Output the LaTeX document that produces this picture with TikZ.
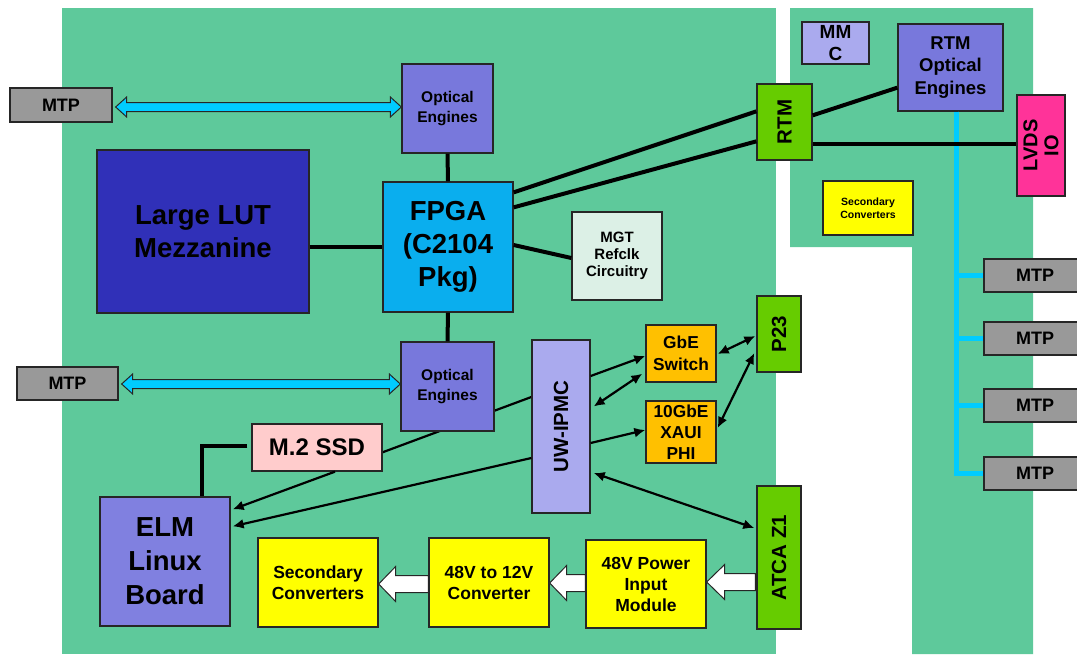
\documentclass[tikz,border=0pt]{standalone}
\usepackage{fontspec}
\setmainfont{Liberation Sans}
\usetikzlibrary{arrows.meta,calc}
\pgfdeclarelayer{bg}
\pgfsetlayers{bg,main}
\definecolor{board}{RGB}{94,201,155}
\definecolor{oecol}{RGB}{120,120,220}
\definecolor{lutcol}{RGB}{48,48,184}
\definecolor{fpgacol}{RGB}{10,174,238}
\definecolor{mgtcol}{RGB}{220,240,230}
\definecolor{grn}{RGB}{102,204,0}
\definecolor{lav}{RGB}{170,170,238}
\definecolor{pinkc}{RGB}{255,51,153}
\definecolor{yel}{RGB}{255,255,0}
\definecolor{org}{RGB}{255,192,0}
\definecolor{ssdcol}{RGB}{255,204,204}
\definecolor{gry}{RGB}{153,153,153}
\definecolor{cyn}{RGB}{0,204,255}
\definecolor{elmcol}{RGB}{128,128,224}
\newcommand\fsz[2]{\bfseries\fontsize{#1}{#2}\selectfont}
\begin{document}
\begin{tikzpicture}[x=1pt,y=-1pt,
 box/.style={draw=black!85,line width=1.3pt,inner sep=0pt,align=center,text=black},
 rtext/.style={rotate=90,align=center,text=black},
 thickline/.style={line width=4pt,black},
 thinarrow/.style={line width=2.2pt,black,-{Latex[length=11pt,width=10pt]}},
 thindbl/.style={line width=2.2pt,black,{Latex[length=11pt,width=10pt]}-{Latex[length=11pt,width=10pt]}},
 cyanline/.style={line width=5.5pt,cyn},
 cyanarrow/.style={fill=cyn,draw=black!85,line width=1pt,line join=miter},
 whitearrow/.style={fill=white,draw=black!85,line width=1pt,line join=miter},
]
\useasboundingbox (0,0) rectangle (1077,654);

% nodes
\node[box,fill=gry,minimum width=102pt,minimum height=34pt,font=\fsz{18}{21}] (mtpA) at (61,105) {MTP};
\node[box,fill=oecol,minimum width=91pt,minimum height=89pt,font=\fsz{15.5}{19.5}] (oeA) at (447.5,108.5) {Optical\\Engines};
\node[box,fill=lutcol,minimum width=212pt,minimum height=163pt,font=\fsz{27.5}{33}] (lut) at (203,231.5) {Large LUT\\Mezzanine};
\node[box,fill=fpgacol,minimum width=130pt,minimum height=130pt,font=\fsz{27.5}{33}] (fpga) at (448,247) {FPGA\\(C2104\\Pkg)};
\node[box,fill=mgtcol,minimum width=90pt,minimum height=88pt,font=\fsz{15}{17}] (mgt) at (617,256) {MGT\\Refclk\\Circuitry};
\node[box,fill=grn,minimum width=55pt,minimum height=76pt] (rtm) at (784.5,122) {};
\node[rtext,font=\fsz{20.5}{24}] (rtmT) at (rtm) {RTM};
\node[box,fill=lav,minimum width=67pt,minimum height=42pt,font=\fsz{19}{22}] (mmc) at (835.5,43) {MM\\C};
\node[box,fill=oecol,minimum width=105pt,minimum height=87pt,font=\fsz{18.5}{22.5}] (rtmoe) at (950.5,67.5) {RTM\\Optical\\Engines};
\node[box,fill=pinkc,minimum width=48pt,minimum height=101pt] (lvds) at (1041,145.5) {};
\node[rtext,font=\fsz{20}{21}] (lvdsT) at (lvds) {LVDS\\IO};
\node[box,fill=yel,minimum width=90pt,minimum height=54pt,font=\fsz{10.5}{13}] (secA) at (868,208) {Secondary\\Converters};
\node[box,fill=gry,minimum width=102pt,minimum height=33pt,font=\fsz{18}{21}] (mtpR1) at (1035,275.5) {MTP};
\node[box,fill=gry,minimum width=102pt,minimum height=33pt,font=\fsz{18}{21}] (mtpR2) at (1035,338.5) {MTP};
\node[box,fill=gry,minimum width=102pt,minimum height=33pt,font=\fsz{18}{21}] (mtpR3) at (1035,405.5) {MTP};
\node[box,fill=gry,minimum width=102pt,minimum height=33pt,font=\fsz{18}{21}] (mtpR4) at (1035,473.5) {MTP};
\node[box,fill=oecol,minimum width=93pt,minimum height=89pt,font=\fsz{15.5}{19.5}] (oeB) at (447.5,386.5) {Optical\\Engines};
\node[box,fill=gry,minimum width=101pt,minimum height=33pt,font=\fsz{18}{21}] (mtpB) at (67.5,383.5) {MTP};
\node[box,fill=lav,minimum width=58pt,minimum height=173pt] (ipmc) at (561,426.5) {};
\node[rtext,font=\fsz{20.5}{24}] (ipmcT) at (ipmc) {UW-IPMC};
\node[box,fill=org,minimum width=70pt,minimum height=57pt,font=\fsz{17.3}{21.5}] (gbe) at (681,353.5) {GbE\\Switch};
\node[box,fill=org,minimum width=70pt,minimum height=62pt,font=\fsz{17.3}{21}] (xaui) at (681,432) {10GbE\\XAUI\\PHI};
\node[box,fill=grn,minimum width=44pt,minimum height=76pt] (p23) at (779,334) {};
\node[rtext,font=\fsz{20.5}{24}] (p23T) at (p23) {P23};
\node[box,fill=grn,minimum width=44pt,minimum height=143pt] (atca) at (779,557.5) {};
\node[rtext,font=\fsz{20.5}{24}] (atcaT) at (atca) {ATCA Z1};
\node[box,fill=ssdcol,minimum width=130pt,minimum height=47pt,font=\fsz{24}{28}] (ssd) at (317,447.5) {M.2 SSD};
\node[box,fill=elmcol,minimum width=130pt,minimum height=129pt,font=\fsz{27.5}{34}] (elm) at (165,561.5) {ELM\\Linux\\Board};
\node[box,fill=yel,minimum width=120pt,minimum height=89pt,font=\fsz{17.5}{21}] (secB) at (318,582.5) {Secondary\\Converters};
\node[box,fill=yel,minimum width=120pt,minimum height=89pt,font=\fsz{17.5}{21}] (conv) at (489,582.5) {48V to 12V\\Converter};
\node[box,fill=yel,minimum width=120pt,minimum height=88pt,font=\fsz{17.5}{21}] (pim) at (646,584) {48V Power\\Input\\Module};

% background
\begin{pgfonlayer}{bg}
\fill[board] (62,8) rectangle (776,654);
\fill[board] (790,8) -- (1033,8) -- (1033,654) -- (912,654) -- (912,247) -- (790,247) -- cycle;
\draw[line width=2.2pt,black] ($(ssd.east)+(-2,5.5)$) -- ($(ipmc.west)+(0,-29.5)$);
\end{pgfonlayer}

% thick connectors
\draw[thickline] (fpga.north) -- (oeA.south);
\draw[thickline] (fpga.south) -- (oeB.north);
\draw[thickline] (fpga.west -| lut.east) -- (fpga.west);
\draw[thickline] ($(fpga.east)+(0,-2)$) -- ($(mgt.west)+(0,2)$);
\draw[thickline] ($(fpga.north east)+(0,11)$) -- ($(rtm.north west)+(0,28)$);
\draw[thickline] ($(fpga.north east)+(0,26)$) -- ($(rtm.north west)+(0,58)$);
\draw[thickline] ($(rtm.north east)+(0,32)$) -- ($(rtmoe.south west)+(0,-24)$);
\draw[thickline] ($(ssd.west)+(-4,-1.5)$) -| ($(elm.north)+(37,0)$);

% cyan tree
\coordinate (cy0) at ($(rtmoe.south)+(6,0)$);
\draw[cyanline] (cy0) |- (mtpR1.west);
\draw[cyanline] (cy0) |- (mtpR2.west);
\draw[cyanline] (cy0) |- (mtpR3.west);
\draw[cyanline] (cy0) |- (mtpR4.west);
\coordinate (rtmL) at ($(rtm.east)+(0,22)$);
\draw[thickline] (rtmL) -- (rtmL -| lvds.west);

% cyan double arrows
\draw[cyanarrow] let \p1=($(mtpA.east)+(3,2)$), \p2=(oeA.west) in
 (\x1,\y1) -- (\x1+11pt,\y1+10pt) -- (\x1+11pt,\y1+4.5pt) -- (\x2-11pt,\y1+4.5pt) -- (\x2-11pt,\y1+10pt) -- (\x2,\y1)
 -- (\x2-11pt,\y1-10pt) -- (\x2-11pt,\y1-4.5pt) -- (\x1+11pt,\y1-4.5pt) -- (\x1+11pt,\y1-10pt) -- cycle;
\draw[cyanarrow] let \p1=($(mtpB.east)+(3,0.5)$), \p2=(oeB.west) in
 (\x1,\y1) -- (\x1+11pt,\y1+10pt) -- (\x1+11pt,\y1+4.5pt) -- (\x2-11pt,\y1+4.5pt) -- (\x2-11pt,\y1+10pt) -- (\x2,\y1)
 -- (\x2-11pt,\y1-10pt) -- (\x2-11pt,\y1-4.5pt) -- (\x1+11pt,\y1-4.5pt) -- (\x1+11pt,\y1-10pt) -- cycle;

% white block arrows
\draw[whitearrow] let \p1=(atca.west), \p2=($(pim.east)+(0,-2)$) in
 (\x2,\y2) -- (\x2+18pt,\y2+17.5pt) -- (\x2+18pt,\y2+8.5pt) -- (\x1-1pt,\y2+8.5pt) -- (\x1-1pt,\y2-8.5pt) -- (\x2+18pt,\y2-8.5pt) -- (\x2+18pt,\y2-17.5pt) -- cycle;
\draw[whitearrow] let \p1=(pim.west), \p2=($(conv.east)+(0,0.5)$) in
 (\x2,\y2) -- (\x2+17pt,\y2+17.5pt) -- (\x2+17pt,\y2+8.5pt) -- (\x1,\y2+8.5pt) -- (\x1,\y2-8.5pt) -- (\x2+17pt,\y2-8.5pt) -- (\x2+17pt,\y2-17.5pt) -- cycle;
\draw[whitearrow] let \p1=(conv.west), \p2=($(secB.east)+(0,1.5)$) in
 (\x2,\y2) -- (\x2+17pt,\y2+17.5pt) -- (\x2+17pt,\y2+8.5pt) -- (\x1,\y2+8.5pt) -- (\x1,\y2-8.5pt) -- (\x2+17pt,\y2-8.5pt) -- (\x2+17pt,\y2-17.5pt) -- cycle;

% thin arrows
\draw[thinarrow] ($(ipmc.east)+(0,-50.5)$) -- ($(gbe.west)+(0,2.5)$);
\draw[thindbl] ($(ipmc.east)+(3,-20)$) -- ($(gbe.south west)+(-3,-9)$);
\draw[thinarrow] ($(ipmc.east)+(0,16.5)$) -- ($(xaui.west)+(0,-2)$);
\draw[thindbl] ($(gbe.east)+(1,0.5)$) -- ($(p23.west)+(-1,2)$);
\draw[thindbl] ($(xaui.east)+(1,-4)$) -- ($(p23.west)+(-2,19)$);
\draw[thindbl] ($(ipmc.east)+(3,46.5)$) -- ($(atca.west)+(-2,-29.5)$);
\draw[thinarrow] ($(ssd.south)+(18,0)$) -- ($(elm.north east)+(2,13)$);
\draw[thinarrow] ($(ipmc.west)+(0,31.5)$) -- ($(elm.north east)+(2,30)$);
\end{tikzpicture}
\end{document}
